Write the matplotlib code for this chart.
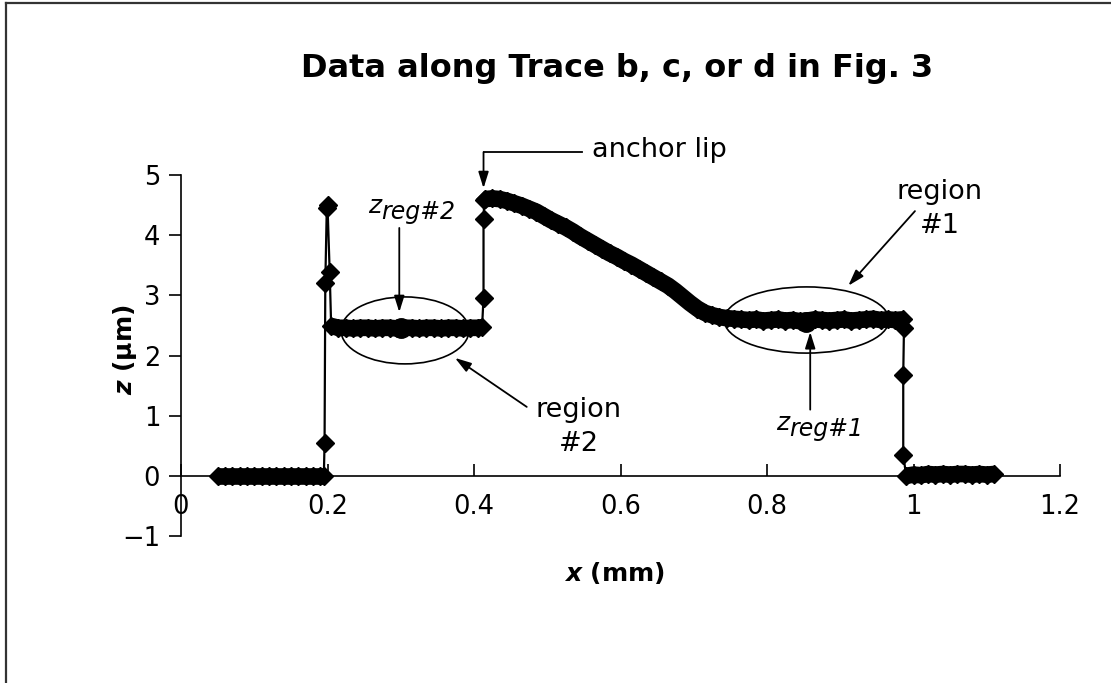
import matplotlib
matplotlib.use("Agg")
import matplotlib.pyplot as plt
from matplotlib.patches import Ellipse
from matplotlib.lines import Line2D
import matplotlib.transforms as mtransforms
import numpy as np

plt.rcParams['font.family'] = ['DejaVu Sans']
plt.rcParams['mathtext.fontset'] = 'custom'
plt.rcParams['mathtext.bf'] = 'DejaVu Sans:bold:italic'
plt.rcParams['mathtext.rm'] = 'DejaVu Sans:bold'

# ---------------- data ----------------
zero_left_x = [0.05, 0.06, 0.07, 0.08, 0.09, 0.10, 0.11, 0.12, 0.13, 0.14,
               0.15, 0.16, 0.17, 0.18, 0.19, 0.195]
zero_left_z = [0.0, 0.0, 0.0, 0.0, 0.0, 0.0, 0.0, 0.0, 0.0, 0.0,
               0.0, 0.0, 0.0, 0.0, 0.0, 0.0]

spike_x = [0.196, 0.197, 0.199, 0.200, 0.203]
spike_z = [0.55, 3.20, 4.45, 4.50, 3.38]

plateau2_x = [0.205, 0.215, 0.225, 0.235, 0.245, 0.255, 0.265, 0.275, 0.285,
              0.295, 0.305, 0.315, 0.325, 0.335, 0.345, 0.355, 0.365, 0.375,
              0.385, 0.395, 0.405, 0.411]
plateau2_z = [2.49, 2.46, 2.46, 2.45, 2.46, 2.46, 2.45, 2.46, 2.46,
              2.45, 2.46, 2.46, 2.45, 2.46, 2.46, 2.45, 2.46, 2.46,
              2.45, 2.46, 2.46, 2.47]

rise_x = [0.413, 0.413, 0.414]
rise_z = [2.96, 4.27, 4.58]

slope_x = [0.415, 0.425, 0.435, 0.445, 0.455, 0.465, 0.475, 0.485, 0.495,
           0.505, 0.515, 0.525, 0.535, 0.545, 0.555, 0.565, 0.575, 0.585,
           0.595, 0.605, 0.615, 0.625, 0.635, 0.645, 0.655, 0.665, 0.675,
           0.685, 0.695, 0.705, 0.715, 0.725, 0.735, 0.745, 0.755,
           0.765, 0.775, 0.785, 0.795, 0.805, 0.815, 0.825, 0.835, 0.845,
           0.855, 0.865, 0.875, 0.885, 0.895, 0.905, 0.915, 0.925, 0.935,
           0.945, 0.955, 0.965, 0.975, 0.985]
slope_z = [4.60, 4.61, 4.60, 4.57, 4.53, 4.49, 4.44, 4.39, 4.32,
           4.25, 4.19, 4.13, 4.06, 3.98, 3.91, 3.84, 3.77, 3.70,
           3.64, 3.57, 3.51, 3.44, 3.37, 3.30, 3.23, 3.16, 3.07,
           2.97, 2.87, 2.78, 2.71, 2.67, 2.64, 2.62, 2.61,
           2.60, 2.59, 2.60, 2.58, 2.59, 2.60, 2.58, 2.59, 2.57,
           2.58, 2.60, 2.59, 2.58, 2.59, 2.60, 2.58, 2.59, 2.60,
           2.61, 2.59, 2.60, 2.59, 2.60]

drop_x = [0.987, 0.986, 0.986]
drop_z = [2.46, 1.68, 0.35]

zero_right_x = [0.99, 1.00, 1.01, 1.02, 1.03, 1.04, 1.05, 1.06, 1.07,
                1.08, 1.09, 1.10, 1.11]
zero_right_z = [0.0, 0.02, 0.01, 0.03, 0.02, 0.03, 0.02, 0.03, 0.03,
                0.02, 0.03, 0.02, 0.03]

reg_x = [0.300, 0.853]      # z_reg#2, z_reg#1
reg_z = [2.46, 2.55]

x_ticks = [0, 0.2, 0.4, 0.6, 0.8, 1.0, 1.2]
x_tick_labels = ['0', '0.2', '0.4', '0.6', '0.8', '1', '1.2']
y_ticks = [-1, 0, 1, 2, 3, 4, 5]

# ---------------- figure ----------------
W, H = 1111, 683
fig = plt.figure(figsize=(W / 100, H / 100), dpi=100)
ax = fig.add_axes([181 / W, 147 / H, 879 / W, 361 / H])
ax.set_xlim(0, 1.2)
ax.set_ylim(-1, 5)

full_x = zero_left_x + spike_x + plateau2_x + rise_x + slope_x + drop_x + zero_right_x
full_z = zero_left_z + spike_z + plateau2_z + rise_z + slope_z + drop_z + zero_right_z

# thick band for the densely sampled parts
for sx, sz in [(zero_left_x, zero_left_z), (plateau2_x, plateau2_z),
               (slope_x, slope_z), (zero_right_x, zero_right_z)]:
    ax.plot(sx, sz, color='black', lw=12.0, solid_capstyle='butt',
            solid_joinstyle='round', zorder=3)
ax.plot(full_x, full_z, color='black', lw=1.6, marker='D', ms=9,
        mfc='black', mec='black', zorder=4, clip_on=False)

ax.plot(reg_x, reg_z, linestyle='none', marker='o', ms=14, color='black', zorder=5)

# ellipses
ax.add_patch(Ellipse((0.3058, 2.417), 0.1747, 1.113, fill=False, lw=1.2,
                     ec='black', zorder=6))
ax.add_patch(Ellipse((0.854, 2.59), 0.225, 1.10, fill=False, lw=1.2,
                     ec='black', zorder=6))

# spines / ticks
for s in ['top', 'right']:
    ax.spines[s].set_visible(False)
ax.spines['bottom'].set_position(('data', 0))
ax.spines['left'].set_linewidth(1.2)
ax.spines['bottom'].set_linewidth(1.2)
ax.set_xticks(x_ticks)
ax.set_xticklabels(x_tick_labels)
ax.set_yticks(y_ticks)
ax.tick_params(axis='x', direction='in', length=9, width=1.2, pad=13,
               labelsize=18.5)
ax.tick_params(axis='y', direction='out', length=9, width=1.2, pad=6,
               labelsize=18.5)
ax.set_xticks([1.2], minor=True)
ax.tick_params(axis='x', which='minor', direction='out', length=9, width=1.2)

# arrows
ap = dict(arrowstyle='-|>,head_length=0.7,head_width=0.22', color='black',
          lw=1.3, shrinkA=0, shrinkB=0, mutation_scale=14)
ax.plot([0.547, 0.413], [5.38, 5.38], color='black', lw=1.3, clip_on=False)
ax.annotate('', xy=(0.413, 4.78), xytext=(0.413, 5.38), arrowprops=ap)
ax.annotate('', xy=(0.374, 1.96), xytext=(0.472, 1.146), arrowprops=ap)
ax.annotate('', xy=(0.911, 3.16), xytext=(1.002, 4.40), arrowprops=ap)
ax.annotate('', xy=(0.298, 2.72), xytext=(0.298, 4.12), arrowprops=ap)
ax.annotate('', xy=(0.859, 2.39), xytext=(0.859, 1.10), arrowprops=ap)

# annotation texts
ax.text(0.561, 5.415, 'anchor lip', fontsize=19.5, ha='left', va='center')
ax.text(0.543, 0.806, 'region\n#2', fontsize=19.5, ha='center', va='center',
        linespacing=1.4)
ax.text(1.036, 4.435, 'region\n#1', fontsize=19.5, ha='center', va='center',
        linespacing=1.4)

def zreg(x, y, sub):
    ax.text(x, y, 'z', fontsize=18, style='italic', ha='right', va='baseline')
    tr = mtransforms.offset_copy(ax.transData, fig=fig, x=0, y=-6, units='dots')
    ax.text(x, y, sub, fontsize=17, style='italic', ha='left', va='baseline',
            transform=tr)

zreg(0.273, 4.37, 'reg#2')
zreg(0.830, 0.764, 'reg#1')

# titles / axis labels
fig.text(617 / W, 1 - 68 / H, 'Data along Trace b, c, or d in Fig. 3',
         fontsize=23, fontweight='bold', ha='center', va='center')
fig.text(614 / W, 1 - 573 / H, r'$\mathbf{x}$ (mm)', fontsize=18,
         fontweight='bold', ha='center', va='center')
fig.text(125 / W, 1 - 350 / H, r'$\mathbf{z}$ (µm)', fontsize=18,
         fontweight='bold', ha='center', va='center', rotation=90)

# frame lines of the original figure box (top and left)
fig.add_artist(Line2D([6 / W, 6 / W], [0, 1 - 3 / H], transform=fig.transFigure,
                      color='#333333', lw=1.6))
fig.add_artist(Line2D([6 / W, 1], [1 - 3 / H, 1 - 3 / H], transform=fig.transFigure,
                      color='#333333', lw=1.6))

fig.savefig('out.png', dpi=100)
